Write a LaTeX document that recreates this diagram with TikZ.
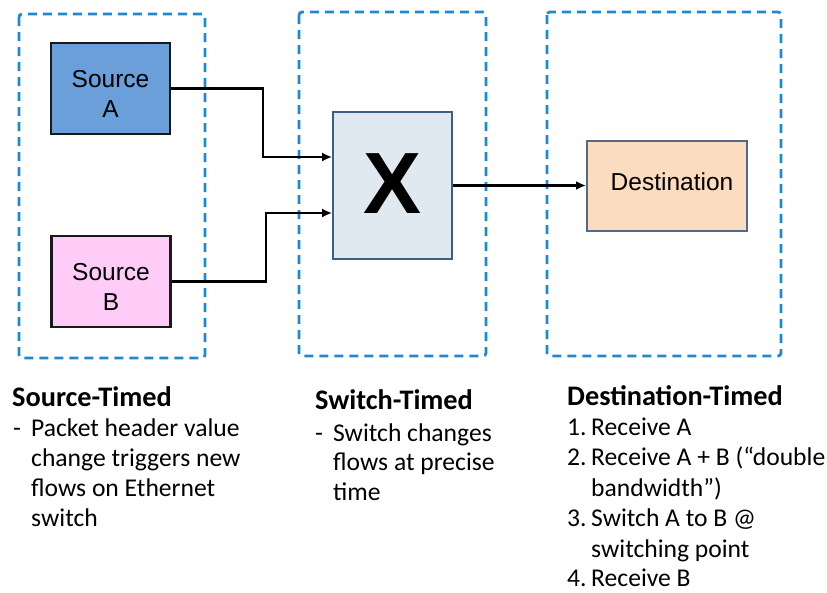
\documentclass[tikz,border=0pt]{standalone}
\usepackage{fontspec}
\setmainfont{Carlito}
\newfontfamily\boxfont{Liberation Sans}
\usetikzlibrary{arrows.meta}

\definecolor{zoneblue}{HTML}{1E88D0}
\definecolor{srcAfill}{HTML}{6A9FD9}
\definecolor{srcBfill}{HTML}{FFCCF8}
\definecolor{swfill}{HTML}{E0E8F0}
\definecolor{swline}{HTML}{3F5F82}
\definecolor{dstfill}{HTML}{FBDCBF}
\definecolor{dstline}{HTML}{52698A}

\tikzset{
  zone/.style={draw=zoneblue, line width=2.8pt, dash pattern=on 9pt off 6pt, rounded corners=3pt},
  srcbox/.style={draw=black!90, line width=2.4pt, minimum width=119pt, minimum height=91pt, inner sep=0pt},
  boxtext/.style={font=\boxfont\fontsize{24.5}{30}\selectfont, align=center, inner sep=0pt},
  arr/.style={line width=2.5pt, -{Latex[length=10pt,width=9pt]}},
  head/.style={font=\bfseries\fontsize{28.3}{33}\selectfont, anchor=base west, inner sep=0pt},
  body/.style={font=\fontsize{25.6}{30}\selectfont, anchor=base west, inner sep=0pt},
}

\begin{document}
\begin{tikzpicture}[x=1pt, y=-1pt]
  \useasboundingbox (0,0) rectangle (827,592);

  % dashed zones
  \draw[zone] (19,14) rectangle (205,358);
  \draw[zone] (299,12) rectangle (486,356);
  \draw[zone] (547,12) rectangle (781,356);

  % sources
  \node[srcbox, fill=srcAfill] (srcA) at (110.5,88.5) {};
  \node[boxtext] (srcAtxt) at (110.5,93.5) {Source\\A};
  \node[srcbox, fill=srcBfill] (srcB) at (111,281.5) {};
  \node[boxtext] (srcBtxt) at (111,287) {Source\\B};

  % switch
  \node[draw=swline, line width=1.8pt, fill=swfill, minimum width=119pt, minimum height=147pt, inner sep=0pt,
        font=\boxfont\bfseries\fontsize{87}{87}\selectfont] (sw) at (392.5,185.5) {\raisebox{3pt}{X}};

  % destination
  \node[draw=dstline, line width=2pt, fill=dstfill, minimum width=160pt, minimum height=90pt, inner sep=0pt] (dst) at (667,185.5) {};
  \node[boxtext] (dsttxt) at (672,182) {Destination};

  % connectors
  \coordinate (kA) at (263,157);
  \coordinate (kB) at (266,213);
  \draw[arr] (srcA.east) -- (srcA.east -| kA) -- (kA) -- (kA -| sw.west);
  \draw[arr] (srcB.east) -- (srcB.east -| kB) -- (kB) -- (kB -| sw.west);
  \draw[arr] (sw.east) -- (dst.west);

  % source-timed notes
  \node[head] (h1) at (12,406) {Source-Timed};
  \node[body] (s0) at (13,436) {-};
  \node[body] (s1) at (31,436) {Packet header value};
  \node[body] (s2) at (31,466) {change triggers new};
  \node[body] (s3) at (31,496) {flows on Ethernet};
  \node[body] (s4) at (31,526) {switch};

  % switch-timed notes
  \node[head] (h2) at (315,409) {Switch-Timed};
  \node[body] (w0) at (315,441) {-};
  \node[body] (w1) at (333,441) {Switch changes};
  \node[body] (w2) at (333,470.5) {flows at precise};
  \node[body] (w3) at (333,500) {time};

  % destination-timed notes
  \node[head] (h3) at (567,405) {Destination-Timed};
  \node[body] (d1) at (567,435) {1.};
  \node[body] (d1t) at (591,435) {Receive A};
  \node[body] (d2) at (567,465.5) {2.};
  \node[body] (d2t) at (591,465.5) {Receive A + B (“double};
  \node[body] (d2c) at (591,496) {bandwidth”)};
  \node[body] (d3) at (567,526.5) {3.};
  \node[body] (d3t) at (591,526.5) {Switch A to B @};
  \node[body] (d3c) at (591,557) {switching point};
  \node[body] (d4) at (567,586.5) {4.};
  \node[body] (d4t) at (591,586.5) {Receive B};
\end{tikzpicture}
\end{document}
